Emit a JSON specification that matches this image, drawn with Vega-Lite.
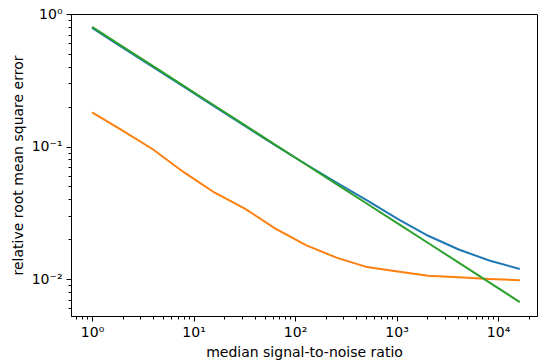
{
  "$schema": "https://vega.github.io/schema/vega-lite/v6.json",
  "width": 466,
  "height": 302,
  "autosize": {"type": "none"},
  "padding": {"left": 71, "top": 14, "right": 13, "bottom": 47},
  "background": "white",
  "data": {
    "values": [
      {"snr": 1, "rmse": 0.785, "series": "s1"},
      {"snr": 2, "rmse": 0.558, "series": "s1"},
      {"snr": 4, "rmse": 0.397, "series": "s1"},
      {"snr": 8, "rmse": 0.283, "series": "s1"},
      {"snr": 16, "rmse": 0.201, "series": "s1"},
      {"snr": 32, "rmse": 0.143, "series": "s1"},
      {"snr": 64, "rmse": 0.102, "series": "s1"},
      {"snr": 128, "rmse": 0.0735, "series": "s1"},
      {"snr": 256, "rmse": 0.0535, "series": "s1"},
      {"snr": 512, "rmse": 0.0392, "series": "s1"},
      {"snr": 1024, "rmse": 0.0284, "series": "s1"},
      {"snr": 2048, "rmse": 0.0212, "series": "s1"},
      {"snr": 4096, "rmse": 0.0167, "series": "s1"},
      {"snr": 8192, "rmse": 0.0138, "series": "s1"},
      {"snr": 16384, "rmse": 0.0119, "series": "s1"},
      {"snr": 1, "rmse": 0.181, "series": "s2"},
      {"snr": 2, "rmse": 0.132, "series": "s2"},
      {"snr": 4, "rmse": 0.095, "series": "s2"},
      {"snr": 8, "rmse": 0.064, "series": "s2"},
      {"snr": 16, "rmse": 0.045, "series": "s2"},
      {"snr": 32, "rmse": 0.034, "series": "s2"},
      {"snr": 64, "rmse": 0.024, "series": "s2"},
      {"snr": 128, "rmse": 0.018, "series": "s2"},
      {"snr": 256, "rmse": 0.0145, "series": "s2"},
      {"snr": 512, "rmse": 0.0123, "series": "s2"},
      {"snr": 1024, "rmse": 0.0114, "series": "s2"},
      {"snr": 2048, "rmse": 0.0106, "series": "s2"},
      {"snr": 4096, "rmse": 0.0103, "series": "s2"},
      {"snr": 8192, "rmse": 0.0100, "series": "s2"},
      {"snr": 16384, "rmse": 0.0098, "series": "s2"},
      {"snr": 1, "rmse": 0.800, "series": "s3"},
      {"snr": 2, "rmse": 0.568, "series": "s3"},
      {"snr": 4, "rmse": 0.404, "series": "s3"},
      {"snr": 8, "rmse": 0.287, "series": "s3"},
      {"snr": 16, "rmse": 0.204, "series": "s3"},
      {"snr": 32, "rmse": 0.145, "series": "s3"},
      {"snr": 64, "rmse": 0.103, "series": "s3"},
      {"snr": 128, "rmse": 0.0732, "series": "s3"},
      {"snr": 256, "rmse": 0.0520, "series": "s3"},
      {"snr": 512, "rmse": 0.0370, "series": "s3"},
      {"snr": 1024, "rmse": 0.0263, "series": "s3"},
      {"snr": 2048, "rmse": 0.0187, "series": "s3"},
      {"snr": 4096, "rmse": 0.0133, "series": "s3"},
      {"snr": 8192, "rmse": 0.00943, "series": "s3"},
      {"snr": 16384, "rmse": 0.0067, "series": "s3"}
    ]
  },
  "mark": {"type": "line", "strokeWidth": 2, "clip": true},
  "encoding": {
    "x": {
      "field": "snr",
      "type": "quantitative",
      "scale": {"type": "log", "domain": [0.62, 24200], "nice": false},
      "axis": {
        "title": "median signal-to-noise ratio",
        "values": [0.7, 0.8, 0.9, 1, 2, 3, 4, 5, 6, 7, 8, 9, 10, 20, 30, 40, 50, 60, 70, 80, 90, 100, 200, 300, 400, 500, 600, 700, 800, 900, 1000, 2000, 3000, 4000, 5000, 6000, 7000, 8000, 9000, 10000, 20000],
        "labelExpr": "abs(log(datum.value)/LN10 - round(log(datum.value)/LN10)) < 0.000001 ? '10' + ['⁰','¹','²','³','⁴'][round(log(datum.value)/LN10)] : ''",
        "tickSize": {"condition": {"test": "abs(log(datum.value)/LN10 - round(log(datum.value)/LN10)) < 0.000001", "value": 5}, "value": 3},
        "labelFlush": false,
        "labelOverlap": false,
        "labelPadding": 4,
        "titlePadding": 6
      }
    },
    "y": {
      "field": "rmse",
      "type": "quantitative",
      "scale": {"type": "log", "domain": [0.00526, 1.0], "nice": false},
      "axis": {
        "title": "relative root mean square error",
        "values": [0.006, 0.007, 0.008, 0.009, 0.01, 0.02, 0.03, 0.04, 0.05, 0.06, 0.07, 0.08, 0.09, 0.1, 0.2, 0.3, 0.4, 0.5, 0.6, 0.7, 0.8, 0.9, 1],
        "labelExpr": "abs(log(datum.value)/LN10 - round(log(datum.value)/LN10)) < 0.000001 ? (round(log(datum.value)/LN10) == 0 ? '10⁰' : round(log(datum.value)/LN10) == -1 ? '10⁻¹' : '10⁻²') : ''",
        "tickSize": {"condition": {"test": "abs(log(datum.value)/LN10 - round(log(datum.value)/LN10)) < 0.000001", "value": 5}, "value": 3},
        "labelFlush": false,
        "labelOverlap": false,
        "labelPadding": 4,
        "titlePadding": 6
      }
    },
    "color": {
      "field": "series",
      "type": "nominal",
      "scale": {"domain": ["s1", "s2", "s3"], "range": ["#1f77b4", "#ff7f0e", "#2ca02c"]},
      "legend": null
    }
  },
  "config": {
    "font": "DejaVu Sans",
    "view": {"stroke": "black", "strokeWidth": 1},
    "axis": {
      "grid": false,
      "domainColor": "black",
      "tickColor": "black",
      "labelColor": "black",
      "titleColor": "black",
      "labelFont": "DejaVu Sans",
      "titleFont": "DejaVu Sans",
      "labelFontSize": 14,
      "titleFontSize": 14,
      "titleFontWeight": "normal"
    }
  }
}
